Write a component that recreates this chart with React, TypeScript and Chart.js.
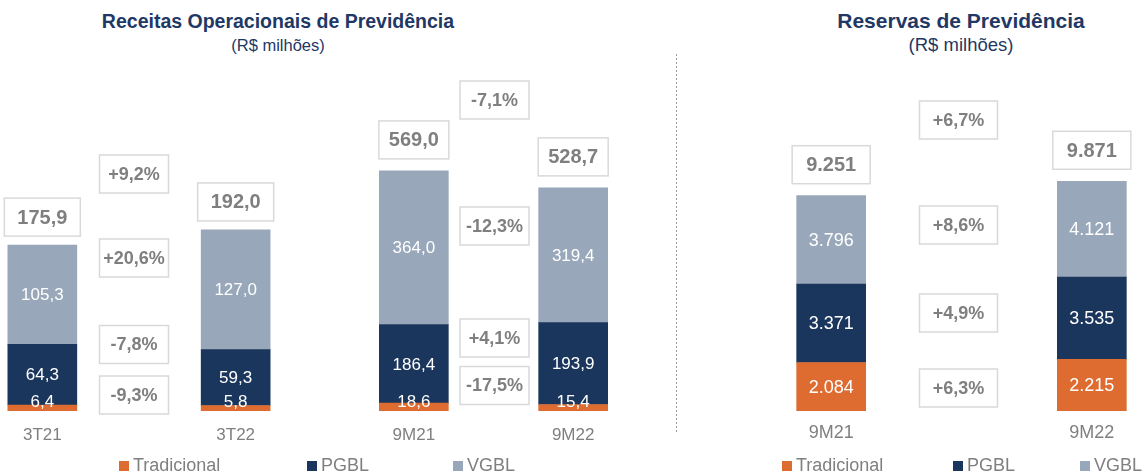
import React, { useEffect, useRef } from 'react';
import { Chart, registerables } from 'chart.js';
Chart.register(...registerables);

const FONT = '"Liberation Sans", Arial, Helvetica, sans-serif';
const GRAY = '#7F7F7F';
const NAVY_TEXT = '#1F3864';
const C_TRAD = '#DE6B2F';
const C_PGBL = '#1B365D';
const C_VGBL = '#98A8BA';
const BOX_BORDER = '#D9D9D9';

const seriesNames = ['Tradicional', 'PGBL', 'VGBL'];
const seriesColors = [C_TRAD, C_PGBL, C_VGBL];

// Receitas Operacionais - trimestre
const catsQ = ['3T21', '3T22'];
const tradQ = [6.4, 5.8];
const pgblQ = [64.3, 59.3];
const vgblQ = [105.3, 127.0];
const totalQ = [175.9, 192.0];
const changeQ = [9.2, 20.6, -7.8, -9.3]; // total, VGBL, PGBL, Tradicional

// Receitas Operacionais - 9 meses
const cats9M = ['9M21', '9M22'];
const trad9M = [18.6, 15.4];
const pgbl9M = [186.4, 193.9];
const vgbl9M = [364.0, 319.4];
const total9M = [569.0, 528.7];
const change9M = [-7.1, -12.3, 4.1, -17.5];

// Reservas de Previdência
const catsRes = ['9M21', '9M22'];
const tradRes = [2084, 2215];
const pgblRes = [3371, 3535];
const vgblRes = [3796, 4121];
const totalRes = [9251, 9871];
const changeRes = [6.7, 8.6, 4.9, 6.3];

const fmtDec = (v: number) => v.toFixed(1).replace('.', ',');
const fmtThou = (v: number) => String(Math.round(v)).replace(/\B(?=(\d{3})+(?!\d))/g, '.');
const fmtPct = (v: number) => (v > 0 ? '+' : '') + v.toFixed(1).replace('.', ',') + '%';

type Panel = {
  cats: string[]; trad: number[]; pgbl: number[]; vgbl: number[]; totals: number[]; changes: number[];
  fmt: (v: number) => string;
  left: number; width: number; yMax: number;
  labelFont: number; catFont: number; tickPad: number; padBottom: number;
  pctFont: number; pctBoxW: number; pctDx: number; totalBoxW: number; totalGap: number; pctYs: number[];
};

const panels: Panel[] = [
  {
    cats: catsQ, trad: tradQ, pgbl: pgblQ, vgbl: vgblQ, totals: totalQ, changes: changeQ, fmt: fmtDec,
    left: -6, width: 290, yMax: 436, labelFont: 17, catFont: 17, tickPad: 13.8, padBottom: 13,
    pctFont: 18, pctBoxW: 69, pctDx: -5, totalBoxW: 76, totalGap: 9, pctYs: [174, 258, 344.5, 395],
  },
  {
    cats: cats9M, trad: trad9M, pgbl: pgbl9M, vgbl: vgbl9M, totals: total9M, changes: change9M, fmt: fmtDec,
    left: 374, width: 239, yMax: 974, labelFont: 17, catFont: 17, tickPad: 13.8, padBottom: 13,
    pctFont: 18, pctBoxW: 69, pctDx: 1, totalBoxW: 70, totalGap: 12, pctYs: [100, 226, 338, 385.5],
  },
  {
    cats: catsRes, trad: tradRes, pgbl: pgblRes, vgbl: vgblRes, totals: totalRes, changes: changeRes, fmt: fmtThou,
    left: 766, width: 391, yMax: 17660, labelFont: 18, catFont: 18, tickPad: 11.2, padBottom: 17,
    pctFont: 18, pctBoxW: 78, pctDx: -3, totalBoxW: 78, totalGap: 12, pctYs: [120, 225, 313, 388],
  },
];

function drawBox(ctx: CanvasRenderingContext2D, cx: number, cy: number, w: number, h: number) {
  ctx.save();
  ctx.fillStyle = '#FFFFFF';
  ctx.strokeStyle = BOX_BORDER;
  ctx.lineWidth = 1.5;
  ctx.fillRect(cx - w / 2, cy - h / 2, w, h);
  ctx.strokeRect(cx - w / 2, cy - h / 2, w, h);
  ctx.restore();
}

function makeAnnot(p: Panel) {
  return {
    id: 'annot',
    afterDatasetsDraw(chart: any) {
      const ctx: CanvasRenderingContext2D = chart.ctx;
      ctx.save();
      ctx.textAlign = 'center';
      ctx.textBaseline = 'middle';
      // segment labels
      chart.data.datasets.forEach((ds: any, di: number) => {
        const meta = chart.getDatasetMeta(di);
        meta.data.forEach((el: any, i: number) => {
          const v = ds.data[i];
          if (v == null) return;
          const top = Math.min(el.y, el.base);
          const bottom = Math.max(el.y, el.base);
          const h = bottom - top;
          const y = h >= 22 ? (top + bottom) / 2 : bottom - 10;
          ctx.fillStyle = '#FFFFFF';
          ctx.font = `${p.labelFont}px ${FONT}`;
          ctx.fillText(p.fmt(v), el.x, y + 1);
        });
      });
      // total boxes
      const topMeta = chart.getDatasetMeta(2);
      [0, 2].forEach((idx, k) => {
        const el = topMeta.data[idx];
        const cy = el.y - p.totalGap - 19;
        drawBox(ctx, el.x, cy, p.totalBoxW, 38);
        ctx.fillStyle = GRAY;
        ctx.font = `bold 20px ${FONT}`;
        ctx.fillText(p.fmt(p.totals[k]), el.x, cy + 1);
      });
      // change boxes
      const xMid = chart.scales.x.getPixelForValue(1) + p.pctDx;
      p.changes.forEach((c, j) => {
        const cy = p.pctYs[j];
        drawBox(ctx, xMid, cy, p.pctBoxW, 38);
        ctx.fillStyle = GRAY;
        ctx.font = `bold ${p.pctFont}px ${FONT}`;
        ctx.fillText(fmtPct(c), xMid, cy + 1);
      });
      ctx.restore();
    },
  };
}

function PanelChart({ p }: { p: Panel }) {
  const ref = useRef<HTMLCanvasElement | null>(null);
  useEffect(() => {
    if (!ref.current) return;
    const series = [p.trad, p.pgbl, p.vgbl];
    const chart = new Chart(ref.current, {
      type: 'bar',
      data: {
        labels: [p.cats[0], '', p.cats[1]],
        datasets: series.map((s, i) => ({
          label: seriesNames[i],
          data: [s[0], null, s[1]],
          backgroundColor: seriesColors[i],
          borderWidth: 0,
          barThickness: 69,
        })) as any,
      },
      options: {
        animation: false,
        responsive: false,
        layout: { padding: { top: 0, bottom: p.padBottom, left: 0, right: 0 } },
        plugins: { legend: { display: false }, tooltip: { enabled: false }, title: { display: false } },
        scales: {
          x: {
            stacked: true,
            grid: { display: false, drawTicks: false },
            border: { display: false },
            ticks: { color: GRAY, font: { family: FONT, size: p.catFont }, padding: p.tickPad, autoSkip: false, maxRotation: 0 },
          },
          y: { stacked: true, display: false, min: 0, max: p.yMax },
        },
      } as any,
      plugins: [makeAnnot(p) as any],
    });
    return () => chart.destroy();
  }, [p]);
  return (
    <canvas
      ref={ref}
      width={p.width}
      height={472}
      style={{ position: 'absolute', left: p.left, top: 0, width: p.width, height: 472 }}
    />
  );
}

function Legend({ xs }: { xs: number[] }) {
  return (
    <>
      {seriesNames.map((n, i) => (
        <div
          key={n}
          style={{
            position: 'absolute', left: xs[i], top: 455, height: 20, display: 'flex', alignItems: 'center',
            fontFamily: FONT, fontSize: 18, color: GRAY, whiteSpace: 'nowrap',
          }}
        >
          <span style={{ display: 'inline-block', width: 10, height: 10, background: seriesColors[i], marginRight: 4, marginTop: 2 }} />
          <span>{n}</span>
        </div>
      ))}
    </>
  );
}

function Title({ cx, title, size, subSize }: { cx: number; title: string; size: number; subSize: number }) {
  return (
    <>
      <div style={{ position: 'absolute', left: cx - 300, width: 600, top: 10, textAlign: 'center', fontFamily: FONT, fontWeight: 'bold', fontSize: size, lineHeight: '22px', color: NAVY_TEXT }}>
        {title}
      </div>
      <div style={{ position: 'absolute', left: cx - 300, width: 600, top: 35, textAlign: 'center', fontFamily: FONT, fontSize: subSize, lineHeight: '20px', color: NAVY_TEXT }}>
        (R$ milhões)
      </div>
    </>
  );
}

export default function App() {
  return (
    <div style={{ position: 'absolute', left: 0, top: 0, width: 1144, height: 472, overflow: 'hidden', background: '#FFFFFF' }}>
      <Title cx={278} title="Receitas Operacionais de Previdência" size={19.5} subSize={16.5} />
      <Title cx={961} title="Reservas de Previdência" size={21} subSize={18.5} />
      {panels.map((p, i) => <PanelChart key={i} p={p} />)}
      <div style={{ position: 'absolute', left: 676, top: 54, width: 1, height: 378, background: 'repeating-linear-gradient(to bottom, #9A9A9A 0 2px, transparent 2px 4px)' }} />
      <Legend xs={[119, 307, 453]} />
      <Legend xs={[782, 953, 1080]} />
    </div>
  );
}
